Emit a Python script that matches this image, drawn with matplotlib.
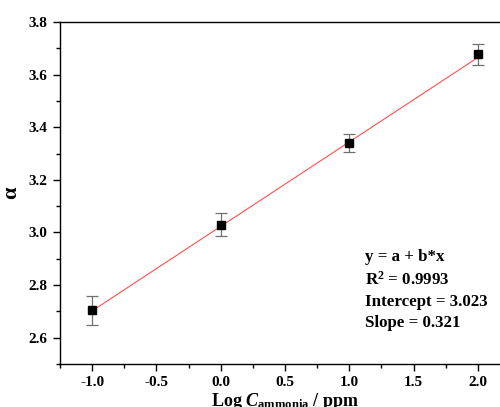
import numpy as np
import matplotlib
matplotlib.use("Agg")
import matplotlib.pyplot as plt
from matplotlib.ticker import MultipleLocator

# Calibration data
log_conc = [-1.0, 0.0, 1.0, 2.0]
alpha = [2.705, 3.030, 3.340, 3.677]
alpha_err = [0.055, 0.044, 0.035, 0.040]

# Linear fit reported in the text box
intercept = 3.023
slope = 0.321
r_squared = 0.9993

plt.rcParams['font.family'] = ['Liberation Serif', 'DejaVu Serif']
plt.rcParams['font.weight'] = 'bold'
plt.rcParams['axes.unicode_minus'] = False
plt.rcParams['mathtext.fontset'] = 'custom'
plt.rcParams['mathtext.rm'] = 'Liberation Serif:bold'
plt.rcParams['mathtext.bf'] = 'Liberation Serif:bold'
plt.rcParams['mathtext.it'] = 'Liberation Serif:bold:italic'
plt.rcParams['mathtext.bfit'] = 'Liberation Serif:bold:italic'

fig = plt.figure(figsize=(5.0, 4.07), dpi=100)
ax = fig.add_axes([60 / 500, 1 - 364 / 407, 450 / 500, (364 - 22) / 407])

xfit = np.array([log_conc[0], log_conc[-1]])
ax.plot(xfit, intercept + slope * xfit, color='#ff5050', lw=0.8, zorder=2)
ax.errorbar(log_conc, alpha, yerr=alpha_err, fmt='none', ecolor='#707070',
            elinewidth=0.9, capsize=4, capthick=0.9, zorder=3)
ax.plot(log_conc, alpha, 's', color='black', ms=6.3, zorder=4)

ax.set_xlim(-1.25, 2.25)
ax.set_ylim(2.5, 3.8)
ax.xaxis.set_major_locator(MultipleLocator(0.5))
ax.xaxis.set_minor_locator(MultipleLocator(0.25))
ax.yaxis.set_minor_locator(MultipleLocator(0.1))
ax.set_yticks([2.6, 2.8, 3.0, 3.2, 3.4, 3.6, 3.8])
ax.tick_params(which='both', direction='out', width=1.0, top=False, right=False)
ax.tick_params(which='major', length=5, labelsize=11, pad=4)
ax.tick_params(which='minor', length=3)
for lbl in ax.get_xticklabels() + ax.get_yticklabels():
    lbl.set_fontweight('bold')
for s in ax.spines.values():
    s.set_linewidth(1.0)

ax.set_xlabel(r'Log $C_{\mathregular{ammonia}}$ / ppm', fontsize=13,
              fontweight='bold', labelpad=1)
ax.set_ylabel('α', fontsize=16, fontweight='bold', labelpad=5)

ax.text(365 / 500, 1 - 290 / 407,
        'y = a + b*x\nR$^2$ = %.4f\nIntercept = %.3f\nSlope = %.3f' % (r_squared, intercept, slope),
        transform=fig.transFigure, fontsize=12.2, fontweight='bold',
        va='center', ha='left', linespacing=1.42)

fig.savefig('out.png', dpi=100)
